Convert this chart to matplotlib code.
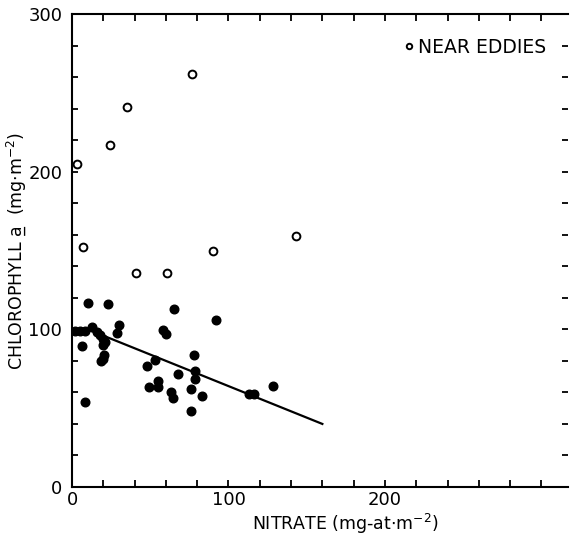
import numpy as np
import matplotlib.pyplot as plt
from matplotlib.ticker import MultipleLocator, FuncFormatter

# open circles: stations near eddies
eddy_nitrate = [77, 35, 24, 3.5, 7, 90, 143, 41, 61]
eddy_chl = [262, 241, 217, 205, 152, 150, 159, 136, 136]

# filled circles: other stations
nitrate = [10, 23, 65, 92, 30, 28.5, 13, 2, 5, 8.5, 16, 18, 20, 21, 20, 6.5,
           20.5, 19.5, 18.5, 58, 60, 78, 53, 48, 68, 78.5, 78.5, 49.5, 55, 55,
           63.5, 64.5, 76, 83, 76, 8.5, 113, 116, 128.5]
chl = [117, 116, 113, 106, 102.5, 97.5, 101.5, 99, 99, 99, 98.5, 96.5, 94, 92, 90, 89.5,
       84, 81.5, 80, 99.5, 97, 84, 80.5, 77, 71.5, 73.5, 68.5, 63.5, 67.5, 63.5,
       60, 56.5, 62, 57.5, 48.5, 54, 59, 59, 64]

# regression line
line_x = [12, 160]
line_y = [99.2, 40]

plt.rcParams['font.family'] = 'DejaVu Sans'
fig = plt.figure(figsize=(5.71, 5.35), dpi=100)
ax = fig.add_axes([72 / 571, 1 - 487 / 535, 496 / 571, 473 / 535])

ax.plot(line_x, line_y, color='black', lw=1.6, zorder=2)
ax.plot(nitrate, chl, 'o', color='black', ms=6.2, zorder=3)
ax.plot(eddy_nitrate, eddy_chl, 'o', mfc='white', mec='black', mew=1.4, ms=5.6,
        zorder=3, label='NEAR EDDIES')

ax.set_xlim(0, 317)
ax.set_ylim(0, 300)

ax.xaxis.set_major_locator(MultipleLocator(20))
ax.yaxis.set_major_locator(MultipleLocator(20))
ax.xaxis.set_major_formatter(FuncFormatter(lambda v, p: f'{v:.0f}' if v % 100 == 0 and v < 300 else ''))
ax.yaxis.set_major_formatter(FuncFormatter(lambda v, p: f'{v:.0f}' if v % 100 == 0 else ''))

ax.spines['right'].set_visible(False)
for s in ['left', 'bottom', 'top']:
    ax.spines[s].set_linewidth(1.5)
ax.tick_params(direction='in', length=5, width=1.3, top=True, right=True,
               labelsize=13, pad=3)
ax.tick_params(axis='y', right=True, length=4, pad=7)

ax.set_xlabel('NITRATE (mg-at$\\cdot$m$^{-2}$)', fontsize=12.5)
ax.xaxis.set_label_coords(0.55, -0.052)
ax.set_ylabel('CHLOROPHYLL a\u0332  (mg$\\cdot$m$^{-2}$)', fontsize=12.5)
ax.yaxis.set_label_coords(-0.088, 0.5)

ax.legend(loc='upper right', frameon=False, fontsize=13.5, markerscale=0.7,
          handlelength=0.4, handletextpad=0.3, bbox_to_anchor=(0.99, 0.985))

fig.savefig('out.png', dpi=100)
